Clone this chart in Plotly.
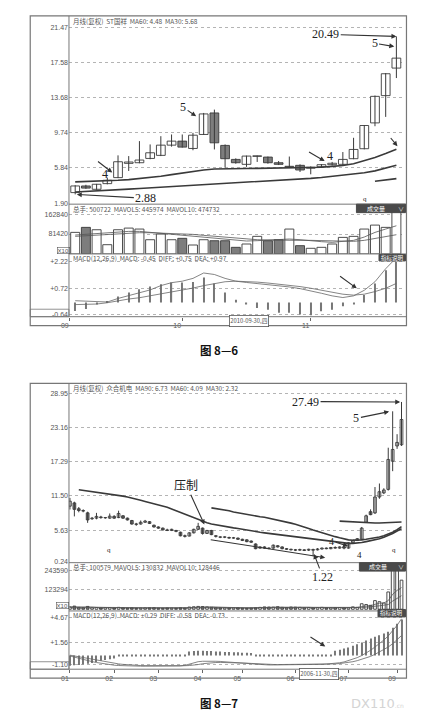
import numpy as np
import plotly.graph_objects as go

# target picture coordinates are in px of the 431x721 page; the page body adds an 8px margin
OFF = 8
W, H = 431 - OFF, 721 - OFF
L, R = 62, 405  # plot area, px

# ---------------- 图8-6  ST国祥 月线 ----------------
c1_open = [3.08, 3.82, 3.45, 4.08, 4.75, 6.34, 6.41, 6.89, 7.23, 8.37,
           8.82, 8.00, 9.56, 11.96, 8.34, 6.78, 6.23, 7.12, 7.04, 6.41,
           5.95, 6.12, 5.80, 5.97, 6.19, 6.23, 6.86, 7.97, 10.85, 13.89, 16.96]
c1_high = [3.90, 3.95, 4.05, 4.75, 7.23, 7.15, 8.82, 8.45, 9.37, 9.56,
           9.56, 9.74, 11.96, 12.33, 8.45, 6.90, 7.20, 7.20, 7.10, 6.60,
           7.10, 6.23, 6.00, 6.25, 6.50, 7.60, 9.19, 10.60, 13.90, 16.40, 20.49]
c1_low = [2.88, 3.50, 3.40, 4.00, 4.70, 5.49, 6.35, 6.80, 7.15, 8.20,
          8.10, 7.80, 9.50, 7.89, 5.86, 6.30, 5.95, 6.50, 6.30, 6.15,
          5.85, 5.38, 5.12, 5.90, 6.10, 6.15, 6.80, 7.90, 10.48, 11.52, 15.85]
c1_close = [3.82, 3.58, 4.01, 4.45, 6.52, 6.49, 6.71, 7.52, 8.37, 8.82,
            8.15, 9.48, 11.85, 8.63, 6.86, 6.41, 7.15, 7.15, 6.41, 6.23,
            6.00, 5.60, 5.90, 6.19, 6.35, 6.78, 7.89, 10.56, 13.81, 16.33, 18.07]
c1_ma_a = [4.27, 4.30, 4.34, 4.38, 4.45, 4.53, 4.64, 4.75, 4.90, 5.08,
           5.27, 5.45, 5.60, 5.71, 5.75, 5.75, 5.77, 5.78, 5.79, 5.80,
           5.80, 5.81, 5.84, 5.90, 6.00, 6.10, 6.30, 6.60, 6.98, 7.43, 7.92]
c1_ma_b = [3.15, 3.20, 3.25, 3.32, 3.40, 3.47, 3.54, 3.61, 3.68, 3.74,
           3.80, 3.87, 3.93, 4.00, 4.07, 4.14, 4.20, 4.27, 4.33, 4.39,
           4.50, 4.58, 4.67, 4.77, 4.90, 5.02, 5.15, 5.30, 5.50, 5.78, 6.12]
c1_ma_c = [4.34, 4.49, 4.64]  # last three months
c1_vol = [88300, 108700, 99000, 37900, 99000, 105800, 101800, 58200, 81400, 58200,
          63900, 36600, 58200, 54100, 54100, 27100, 40700, 72000, 54100, 58200,
          101800, 33900, 23100, 27100, 40700, 67800, 72000, 101800, 118000, 108700, 200000]
c1_mavol5 = [77350, 80070, 84140, 88200, 90910, 92290, 92290, 88200, 85490, 80070,
             77350, 71920, 67850, 65140, 61070, 55640, 52920, 54280, 55640, 58350,
             61070, 58350, 52920, 50200, 47490, 50200, 55640, 69210, 88200, 101780, 115340]
c1_mavol10 = [71920, 74630, 77350, 80070, 82780, 85490, 86850, 86850, 85490, 84140,
              82780, 80070, 75990, 71920, 67850, 63780, 61070, 58350, 56990, 55640,
              55640, 55640, 55640, 54280, 52920, 51560, 51560, 55640, 63780, 71920, 78710]
c1_diff = [0.09, 0.07, 0.04, 0.02, 0.21, 0.35, 0.49, 0.67, 0.90, 1.06,
           1.14, 1.29, 1.58, 1.50, 1.29, 1.14, 1.07, 1.02, 0.97, 0.90,
           0.83, 0.74, 0.63, 0.49, 0.35, 0.26, 0.35, 0.65, 1.11, 1.81, 2.40]
c1_dea = [-0.12, -0.11, -0.09, -0.02, 0.09, 0.18, 0.25, 0.35, 0.48, 0.58,
          0.67, 0.77, 0.90, 1.00, 1.11, 1.14, 1.13, 1.09, 1.04, 0.99,
          0.92, 0.85, 0.76, 0.65, 0.55, 0.44, 0.39, 0.44, 0.58, 0.76, 1.02]
c1_macd = [-0.47, -0.35, -0.12, 0.05, 0.32, 0.53, 0.70, 0.85, 0.97, 1.07,
           1.07, 1.10, 1.34, 1.02, 0.53, 0.14, -0.12, -0.30, -0.39, -0.56,
           -0.56, -0.65, -0.69, -0.48, -0.39, -0.21, -0.12, 0.40, 1.02, 1.73, 2.17]
c1_tick_pos = [-0.5, 10, 22]
c1_tick_text = ["09", "10", "11"]

# ---------------- 图8-7  众合机电 月线 ----------------
c2_open = [9.74, 10.30, 9.30, 9.00, 8.60, 7.60, 7.70, 7.90, 7.75, 7.70,
           8.00, 7.80, 8.10, 7.70, 7.30, 6.70, 6.70, 7.00, 7.10, 6.50,
           6.20, 6.00, 5.70, 5.60, 5.60, 5.30, 4.70, 4.65, 5.20, 5.80,
           6.00, 5.10, 5.60, 4.70, 4.50, 4.45, 4.40, 4.30, 4.30, 4.10,
           4.00, 3.80, 3.30, 2.60, 2.80, 2.60, 2.60, 3.00, 2.80, 2.50,
           2.40, 2.30, 2.25, 2.30, 2.25, 2.35, 2.30, 2.45, 2.60, 2.50,
           2.70, 2.60, 2.80, 2.60, 3.50, 3.90, 4.10, 7.00, 8.80, 8.60,
           11.30, 12.00, 12.60, 17.40, 20.00, 20.20]
c2_high = [11.15, 10.50, 9.60, 9.20, 8.80, 7.90, 8.60, 8.10, 7.90, 8.50,
           8.20, 8.97, 8.20, 7.80, 7.40, 6.90, 7.30, 7.40, 7.20, 6.60,
           6.30, 6.10, 5.90, 5.90, 5.70, 5.40, 4.90, 5.30, 5.90, 6.90,
           6.10, 5.70, 5.70, 4.80, 4.60, 4.60, 4.55, 4.50, 4.40, 4.20,
           4.10, 3.90, 3.40, 2.90, 2.90, 2.70, 3.20, 3.10, 2.90, 2.60,
           2.50, 2.45, 2.50, 2.40, 2.50, 2.50, 2.60, 2.70, 2.70, 2.80,
           2.90, 2.90, 3.00, 3.60, 4.00, 4.30, 6.20, 8.30, 9.20, 13.00,
           13.60, 12.80, 19.70, 25.90, 22.00, 27.49]
c2_low = [9.17, 8.00, 8.70, 8.70, 6.90, 7.40, 7.50, 7.60, 7.60, 7.60,
          7.60, 7.70, 7.60, 7.30, 6.60, 6.40, 6.60, 6.90, 6.70, 6.10,
          5.90, 5.60, 5.50, 5.50, 5.30, 4.60, 4.40, 4.60, 5.10, 5.70,
          4.90, 5.00, 4.80, 4.40, 4.30, 4.30, 4.20, 4.20, 4.00, 3.80,
          3.60, 3.50, 2.40, 2.50, 2.50, 2.40, 2.50, 2.70, 2.40, 2.30,
          2.20, 2.10, 2.15, 2.10, 2.10, 1.22, 2.20, 2.35, 2.40, 2.40,
          2.50, 2.50, 2.40, 2.50, 3.40, 3.80, 4.00, 6.90, 8.20, 8.40,
          11.00, 11.80, 12.40, 15.70, 19.50, 20.00]
c2_close = [10.59, 9.20, 9.00, 8.90, 7.40, 7.70, 8.00, 7.80, 7.75, 8.05,
            7.70, 8.50, 7.70, 7.40, 6.70, 6.65, 7.00, 7.20, 6.80, 6.20,
            6.00, 5.70, 5.60, 5.80, 5.45, 4.70, 4.60, 5.20, 5.80, 6.30,
            5.10, 5.60, 4.90, 4.60, 4.45, 4.50, 4.30, 4.35, 4.10, 3.90,
            3.70, 3.60, 2.50, 2.80, 2.60, 2.55, 3.10, 2.80, 2.50, 2.40,
            2.30, 2.25, 2.35, 2.20, 2.40, 2.25, 2.45, 2.60, 2.50, 2.70,
            2.60, 2.80, 2.60, 3.50, 3.90, 4.20, 6.00, 8.10, 8.30, 11.30,
            12.20, 12.50, 17.70, 19.40, 20.60, 24.50]
c2_ma_a = [12.55, 12.45, 12.35, 12.25, 12.15, 12.05, 11.95, 11.85, 11.75, 11.60,
           11.45, 11.30, 11.15, 10.95, 10.75, 10.55, 10.35, 10.15, 9.95, 9.80,
           9.55, 9.25, 8.95, 8.65, 8.30, 8.00, 7.70, 7.40, 7.10, 6.90,
           6.70, 6.55, 6.40, 6.30, 6.20, 6.05, 5.95, 5.80, 5.65, 5.50,
           5.40, 5.30, 5.20, 5.10, 5.00, 4.90, 4.80, 4.70, 4.60, 4.50,
           4.40, 4.30, 4.20, 4.10, 4.00, 3.90, 3.80, 3.70, 3.60, 3.50,
           3.45, 3.40, 3.40, 3.45, 3.55, 3.70, 3.85, 4.00, 4.20, 4.45,
           4.75, 5.10, 5.50, 5.90]  # from month 2
c2_ma_b = [9.45, 9.35, 9.25, 9.10, 8.95, 8.75, 8.60, 8.45, 8.30, 8.15,
           8.00, 7.95, 7.85, 7.70, 7.55, 7.40, 7.25, 7.05, 6.85, 6.65,
           6.45, 6.20, 5.95, 5.70, 5.45, 5.20, 5.00, 4.80, 4.55, 4.35,
           4.15, 4.00, 3.95, 3.95, 4.00, 4.10, 4.20, 4.35, 4.50, 4.70,
           4.95, 5.30, 5.75, 6.25]  # from month 32
c2_ma_c = [7.20, 7.15, 7.10, 7.05, 7.00, 6.95, 6.90, 6.90, 6.88, 6.88,
           6.90, 6.92, 6.95, 7.00, 7.05]  # from month 61
c2_vol = [15000, 20000, 12000, 10000, 18000, 9000, 11000, 8000, 9000, 10000,
          8000, 12000, 9000, 7000, 9000, 6000, 7000, 8000, 9000, 10000,
          7000, 6000, 8000, 7000, 6000, 9000, 7000, 14000, 16000, 18000,
          17000, 15000, 12000, 10000, 9000, 8000, 7000, 8000, 9000, 7000,
          6000, 7000, 9000, 12000, 15000, 14000, 13000, 16000, 12000, 11000,
          14000, 13000, 12000, 10000, 11000, 9000, 10000, 12000, 9000, 8000,
          10000, 11000, 9000, 9000, 15000, 12000, 35000, 30000, 25000, 55000,
          48000, 40000, 110000, 290000, 280000, 185000]
c2_mavol5 = [14000, 14500, 14000, 13000, 15000, 13800, 12000, 11200, 11000, 9400,
             9200, 9200, 9600, 8600, 8600, 8000, 8000, 7800, 7800, 8000,
             8200, 8000, 7600, 7600, 7200, 7400, 7400, 8800, 10400, 13000,
             15200, 16000, 15600, 14400, 12600, 10800, 9200, 8400, 8200, 7800,
             7400, 7400, 7600, 8800, 10200, 11800, 13600, 14000, 14000, 13200,
             13200, 13000, 12400, 12000, 12000, 11000, 10800, 10400, 10400, 9600,
             9800, 10000, 9800, 9400, 10400, 11200, 17400, 20200, 23400, 31400,
             38600, 39600, 55000, 95000, 120000, 138000]
c2_mavol10 = [13000, 13200, 13300, 13100, 13600, 13200, 12800, 12400, 12100, 11800,
              11400, 11000, 10600, 10000, 9600, 9200, 8900, 8600, 8300, 8200,
              8100, 8000, 7900, 7800, 7700, 7800, 7900, 8200, 8800, 9600,
              10500, 11400, 12000, 12200, 12200, 12000, 11600, 11000, 10400, 9800,
              9200, 8600, 8400, 8600, 9000, 9600, 10400, 11200, 11600, 12000,
              12400, 12600, 12800, 12700, 12500, 12200, 11900, 11600, 11200, 10800,
              10500, 10300, 10200, 10000, 10200, 10500, 11700, 13200, 14800, 17400,
              22000, 26000, 30000, 52000, 70000, 86000]
c2_diff = [-0.05, -0.20, -0.35, -0.50, -0.62, -0.74, -0.85, -0.95, -1.05, -1.12,
           -1.18, -1.22, -1.25, -1.27, -1.28, -1.29, -1.30, -1.30, -1.30, -1.30,
           -1.30, -1.30, -1.29, -1.28, -1.28, -1.27, -1.20, -1.05, -0.90, -0.75,
           -0.70, -0.68, -0.68, -0.70, -0.72, -0.75, -0.78, -0.82, -0.86, -0.90,
           -0.95, -1.00, -1.05, -1.10, -1.13, -1.15, -1.15, -1.15, -1.15, -1.14,
           -1.13, -1.12, -1.12, -1.11, -1.10, -1.10, -1.09, -1.07, -1.04, -1.00,
           -0.95, -0.88, -0.78, -0.62, -0.45, -0.25, 0.00, 0.30, 0.65, 1.05,
           1.45, 1.90, 2.40, 3.00, 3.70, 4.50]
c2_dea = [0.05, -0.05, -0.15, -0.27, -0.38, -0.50, -0.60, -0.70, -0.80, -0.88,
          -0.95, -1.02, -1.08, -1.13, -1.17, -1.20, -1.22, -1.23, -1.24, -1.25,
          -1.25, -1.25, -1.25, -1.25, -1.25, -1.25, -1.24, -1.22, -1.18, -1.10,
          -1.00, -0.93, -0.88, -0.85, -0.84, -0.84, -0.85, -0.86, -0.88, -0.90,
          -0.93, -0.96, -1.00, -1.03, -1.06, -1.08, -1.09, -1.10, -1.10, -1.10,
          -1.10, -1.10, -1.10, -1.10, -1.10, -1.09, -1.09, -1.08, -1.07, -1.05,
          -1.02, -0.98, -0.92, -0.85, -0.75, -0.62, -0.47, -0.30, -0.10, 0.15,
          0.42, 0.72, 1.05, 1.45, 1.90, 2.45]
c2_macd = [-1.25, -1.20, -1.15, -1.10, -1.00, -0.90, -0.80, -0.65, -0.55, -0.45,
           -0.35, 0.10, 0.12, 0.10, 0.12, 0.10, 0.12, 0.10, 0.12, 0.10,
           0.12, 0.10, 0.12, 0.10, 0.12, 0.10, 0.12, 0.50, 0.55, 0.60,
           0.60, 0.55, 0.55, 0.50, 0.50, 0.45, 0.45, 0.40, 0.40, 0.35,
           0.35, 0.30, 0.12, 0.10, 0.12, 0.10, 0.12, 0.10, 0.12, 0.10,
           0.12, 0.10, 0.12, 0.10, 0.12, 0.10, 0.12, 0.10, 0.12, 0.10,
           0.60, 0.70, 0.85, 1.00, 1.20, 1.40, 1.60, 1.85, 2.10, 2.30,
           2.50, 2.70, 2.90, 3.40, 3.90, 4.40]
c2_tick_pos = [0, 10, 20, 30, 39, 51, 63, 74]
c2_tick_text = ["01", "02", "03", "04", "05", "06", "07", "09"]

DARK = "#3a3a3a"
DOWN = "#7d7d7d"
GRID = "#b4b4b4"
TICKFONT = dict(family="Liberation Sans", size=7, color="#555")
CJK = "Noto Sans CJK SC"

fig = go.Figure()


def fx(x):
    return (x - OFF) / W


def fy(y):
    return 1 - (y - OFF) / H


def add_candles(n, o, h, l, c, width):
    o, h, l, c = map(np.asarray, (o, h, l, c))
    x = np.arange(len(o))
    wx, wy = [], []
    for xi, hi, li in zip(x, h, l):
        wx += [xi, xi, None]
        wy += [li, hi, None]
    fig.add_trace(go.Scatter(x=wx, y=wy, mode="lines", line=dict(color=DARK, width=1),
                             xaxis="x%d" % n, yaxis="y%d" % n, hoverinfo="skip"))
    up = c >= o
    fig.add_trace(go.Bar(x=x, y=np.maximum(np.abs(c - o), 0.06), base=np.minimum(o, c), width=width,
                         marker=dict(color=np.where(up, "white", DOWN).tolist(),
                                     line=dict(color=DARK, width=0.9)),
                         xaxis="x%d" % n, yaxis="y%d" % n))
    return up


def add_line(n, x, y, color=DARK, width=1.6):
    fig.add_trace(go.Scatter(x=x, y=y, mode="lines", line=dict(color=color, width=width),
                             xaxis="x%d" % n, yaxis="y%d" % n, hoverinfo="skip"))


def add_volume(n, vol, up, width, ma5, ma10):
    x = np.arange(len(vol))
    fig.add_trace(go.Bar(x=x, y=vol, width=width,
                         marker=dict(color=np.where(up, "white", DOWN).tolist(),
                                     line=dict(color=DARK, width=0.9)),
                         xaxis="x%d" % n, yaxis="y%d" % n))
    add_line(n, x, ma5, "#555", 0.8)
    add_line(n, x, ma10, "#555", 0.8)


def add_macd(n, hist, diff, dea, width):
    x = np.arange(len(hist))
    fig.add_trace(go.Bar(x=x, y=hist, width=width, marker=dict(color="#777", line=dict(width=0)),
                         xaxis="x%d" % n, yaxis="y%d" % n))
    add_line(n, x, diff, "#666", 0.8)
    add_line(n, x, dea, "#666", 0.8)


# chart 1
up1 = add_candles(1, c1_open, c1_high, c1_low, c1_close, 0.82)
x1 = np.arange(len(c1_open))
add_line(1, x1, c1_ma_a)
add_line(1, x1, c1_ma_b)
add_line(1, x1[-len(c1_ma_c):], c1_ma_c)
add_volume(2, c1_vol, up1, 0.84, c1_mavol5, c1_mavol10)
add_macd(3, c1_macd, c1_diff, c1_dea, 0.11)

# chart 2
up2 = add_candles(4, c2_open, c2_high, c2_low, c2_close, 0.62)
x2 = np.arange(len(c2_open))
add_line(4, x2[-len(c2_ma_a):], c2_ma_a)
add_line(4, x2[-len(c2_ma_b):], c2_ma_b)
add_line(4, x2[-len(c2_ma_c):], c2_ma_c)
add_volume(5, c2_vol, up2, 0.62, c2_mavol5, c2_mavol10)
add_macd(6, c2_macd, c2_diff, c2_dea, 0.24)

# ---- axes ----
panels = {
    1: dict(dom=(17, 205), yr=[1.79, 22.66], tv=[1.90, 5.84, 9.74, 13.68, 17.58, 21.47],
            tt=["1.90", "5.84", "9.74", "13.68", "17.58", "21.47"], xr=[-0.58, 30.85]),
    2: dict(dom=(205, 255), yr=[0, 203550], tv=[81420, 162840], tt=["81420", "162840"], xr=[-0.58, 30.85]),
    3: dict(dom=(256, 318), yr=[-0.77, 2.55], tv=[-0.64, 0.72, 2.22], tt=["-0.64", "+0.72", "+2.22"],
            xr=[-0.58, 30.85]),
    4: dict(dom=(385, 565), yr=[0.12, 30.65], tv=[0.24, 5.63, 11.50, 17.29, 23.16, 28.95],
            tt=["0.24", "5.63", "11.50", "17.29", "23.16", "28.95"], xr=[-0.22, 75.9]),
    5: dict(dom=(565, 613), yr=[-7600, 296100], tv=[123294, 243590], tt=["123294", "243590"],
            xr=[-0.22, 75.9]),
    6: dict(dom=(614, 672), yr=[-1.67, 5.40], tv=[-1.10, 1.56, 4.67], tt=["-1.10", "+1.56", "+4.67"],
            xr=[-0.22, 75.9]),
}
lay = {}
for n, p in panels.items():
    sfx = "" if n == 1 else str(n)
    xa = dict(domain=[fx(L), fx(R)], range=p["xr"], anchor="y%d" % n, showgrid=False, zeroline=False,
              showline=False, showticklabels=False, ticks="", fixedrange=True)
    if n in (3, 6):
        xa.update(showticklabels=True, tickmode="array",
                  tickvals=c1_tick_pos if n == 3 else c2_tick_pos,
                  ticktext=c1_tick_text if n == 3 else c2_tick_text,
                  ticks="outside", ticklen=3, tickcolor="#666", tickfont=TICKFONT,
                  ticklabelshift=-5, ticklabelstandoff=-1)
    ya = dict(domain=[fy(p["dom"][1]), fy(p["dom"][0])], range=p["yr"], anchor="x%d" % n,
              tickmode="array", tickvals=p["tv"], ticktext=p["tt"], tickfont=TICKFONT, ticks="",
              showgrid=True, gridcolor=GRID, griddash="dot", gridwidth=0.7,
              zeroline=False, showline=False, fixedrange=True)
    lay["xaxis" + sfx] = xa
    lay["yaxis" + sfx] = ya

fig.update_layout(width=W, height=H, margin=dict(l=0, r=0, t=0, b=0),
                  paper_bgcolor="white", plot_bgcolor="rgba(0,0,0,0)",
                  showlegend=False, barmode="overlay", **lay)


# ---- frames and buttons ----
def pline(x0, y0, x1_, y1, color="#777", width=1):
    fig.add_shape(type="line", xref="paper", yref="paper", x0=fx(x0), x1=fx(x1_),
                  y0=fy(y0), y1=fy(y1), line=dict(color=color, width=width))


def prect(x0, y0, x1_, y1, fill="rgba(0,0,0,0)", color="#777", width=1):
    fig.add_shape(type="rect", xref="paper", yref="paper", x0=fx(x0), x1=fx(x1_),
                  y0=fy(y1), y1=fy(y0), fillcolor=fill, line=dict(color=color, width=width))


def ptext(x, y, text, size=6.5, color="#555", family=CJK, xanchor="left", **kw):
    fig.add_annotation(xref="paper", yref="paper", x=fx(x), y=fy(y), text=text, showarrow=False,
                       xanchor=xanchor, yanchor="middle", font=dict(family=family, size=size, color=color),
                       **kw)


for top, bot, seps, date_box, date_txt in [
    (16, 327, (205, 255, 318), (224, 266), "2010-09-30,四"),
    (385, 681, (565, 613.5, 672), (299, 335), "2006-11-30,四"),
]:
    prect(22.5, top, 406, bot, width=1.2)
    pline(62, top, 62, seps[2])
    pline(62, seps[0], 406, seps[0])
    pline(62, seps[1], 406, seps[1])
    pline(22.5, seps[2], 406, seps[2])
    prect(22.5, seps[2] - 7.5, 62, seps[2], width=0.8)
    ptext((date_box[0] + date_box[1]) / 2, seps[2] + 4.6, date_txt, size=5.8, xanchor="center",
          bordercolor="#555", borderwidth=0.8, borderpad=0.5, bgcolor="white")

# chart 1 headers
ptext(64, 21, "月线(复权)  ST国祥  MA60: 4.48  MA30: 5.68")
ptext(64, 209.5, "总手: 500722  MAVOL5: 445974  MAVOL10: 474732")
ptext(64, 259.5, "MACD(12,26,9)  MACD: -0.45  DIFF: +0.75  DEA: +0.97")
prect(355, 205, 405, 213.5, fill="#4a4a4a", color="#4a4a4a")
ptext(375, 209.3, "成交量", size=6, color="white", xanchor="center")
ptext(400, 209.3, "∨", size=6, color="#ddd", xanchor="center")
prect(378, 255.5, 405, 262, fill="#4a4a4a", color="#4a4a4a")
ptext(391.5, 258.8, "指标说明", size=5.5, color="white", xanchor="center")
ptext(56, 251.2, "X10", size=6, family="Liberation Sans", xanchor="center",
      bordercolor="#555", borderwidth=0.6, borderpad=0)

# chart 2 headers
ptext(64, 389.5, "月线(复权)  众合机电  MA90: 6.73  MA60: 4.09  MA30: 2.32")
ptext(64, 569.5, "总手: 100579  MAVOL5: 130832  MAVOL10: 128446")
ptext(64, 617.5, "MACD(12,26,9)  MACD: +0.29  DIFF: -0.58  DEA: -0.73")
prect(358, 565, 405, 573.5, fill="#4a4a4a", color="#4a4a4a")
ptext(377, 569.3, "成交量", size=6, color="white", xanchor="center")
ptext(400, 569.3, "∨", size=6, color="#ddd", xanchor="center")
prect(377, 612, 405, 619.5, fill="#4a4a4a", color="#4a4a4a")
ptext(391, 615.8, "指标说明", size=5.5, color="white", xanchor="center")
ptext(55.5, 607.8, "X10", size=6, family="Liberation Sans", xanchor="center",
      bordercolor="#555", borderwidth=0.6, borderpad=0)

# captions
ptext(215, 351, "<b>图 8—6</b>", size=11.5, color="#111", xanchor="center")
ptext(215, 706, "<b>图 8—7</b>", size=11.5, color="#111", xanchor="center")
ptext(406, 706, "DX110<span style='font-size:6px'>.cn</span>", size=13, color="#d4d4d4",
      family="DejaVu Sans", xanchor="right")

# ---- arrows and marks drawn on the book page ----
SERIF = dict(family="Liberation Serif", size=12, color="#222")


def arrow(n, x, y, ax, ay, text=" ", font=None):
    fig.add_annotation(xref="x%d" % n, yref="y%d" % n, axref="x%d" % n, ayref="y%d" % n,
                       x=x, y=y, ax=ax, ay=ay, text=text, showarrow=True, arrowhead=2,
                       arrowsize=0.9, arrowwidth=1.1, arrowcolor="#333",
                       font=font or dict(size=1, color="rgba(0,0,0,0)"))


def dtext(n, x, y, text, size=12):
    fig.add_annotation(xref="x%d" % n, yref="y%d" % n, x=x, y=y, text=text, showarrow=False,
                       font=dict(family="Liberation Serif", size=size, color="#222"))


last1 = len(c1_high) - 1
arrow(1, last1, c1_high[-1], 23.4, 20.73, "20.49", SERIF)
arrow(1, 29.8, 19.36, 27.96, 19.73, "5", SERIF)
arrow(1, 11.3, 11.59, 10.08, 12.59, "5", SERIF)
arrow(1, 3.46, 5.31, 1.99, 6.67)
dtext(1, 2.8, 5.12, "4")
arrow(1, 23.3, 6.59, 21.7, 7.7)
dtext(1, 23.8, 7.15, "4")
arrow(1, 30.1, 8.26, 29.33, 9.37)
arrow(1, 0.15, c1_low[0], 6.6, 2.45, "2.88", SERIF)
dtext(1, 27.05, 2.4, "q", size=7)
arrow(3, 26.3, 0.755, 24.6, 1.46)

last2 = len(c2_high) - 1
arrow(4, last2 - 0.3, c2_high[-1], 53.3, 27.55, "27.49", SERIF)
arrow(4, 72.2, 25.85, 64.8, 24.71, "5", SERIF)
arrow(4, 30.4, 6.62, 26.3, 13.4, "压制", dict(family=CJK, size=12, color="#222"))
arrow(4, 62.9, 2.95, 59.2, 3.8, "4", dict(family="Liberation Serif", size=10, color="#222"))
arrow(4, 57.75, 0.97, 31.5, 4.07)
arrow(4, 55.2, 1.6, 57.2, -2.3, "1.22", SERIF)
dtext(4, 8.9, 2.2, "q", size=7)
dtext(4, 73.2, 2.2, "q", size=7)
dtext(4, 65.4, 1.5, "4", size=9)
arrow(6, 57.75, 1.12, 54.07, 2.38)

fig.write_html("out.html")
